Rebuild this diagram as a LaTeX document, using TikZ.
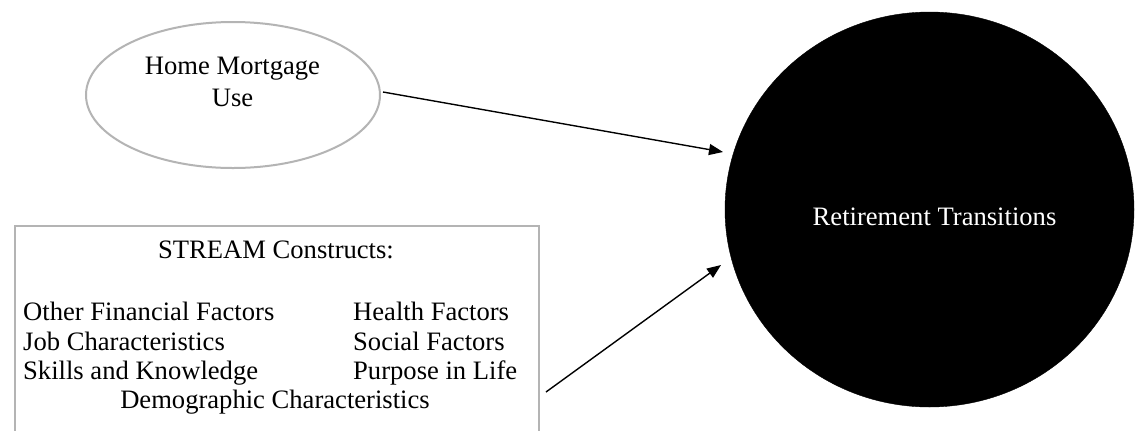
\documentclass[tikz,border=0pt]{standalone}
\usepackage{fontspec}
\setmainfont{Liberation Serif}
\usetikzlibrary{shapes.geometric,arrows.meta}
\definecolor{edgegray}{HTML}{B4B4B4}
\tikzset{
  txt/.style={inner sep=0pt, font=\fontsize{26.6bp}{32bp}\selectfont},
  oval/.style={ellipse, draw=edgegray, line width=2bp, minimum width=294bp, minimum height=146bp, inner sep=0pt},
  panel/.style={rectangle, draw=edgegray, line width=2.2bp, minimum width=524bp, minimum height=270bp, inner sep=0pt},
  bigdisk/.style={ellipse, fill=black, draw=black, minimum width=409bp, minimum height=395bp, inner sep=0pt},
  arr/.style={line width=1.4bp, -{Triangle[length=14bp,width=11bp]}}
}
\begin{document}
\begin{tikzpicture}[x=1bp,y=-1bp]
\useasboundingbox (0,0) rectangle (1135,430);
\clip (0,0) rectangle (1135,430);
\fill[white] (0,0) rectangle (1135,430);
% Home Mortgage Use
\node[oval] (mort) at (233,95) {};
\node[txt, anchor=base] (mortA) at (232.5,74) {Home Mortgage};
\node[txt, anchor=base] (mortB) at (232.5,106) {Use};
% STREAM box
\node[panel, anchor=north west] (stream) at (14,225) {};
\node[txt, anchor=base] (title) at (276,258) {STREAM Constructs:};
\node[txt, anchor=base west] (l1) at (23,320) {Other Financial Factors};
\node[txt, anchor=base west] (l2) at (23,350) {Job Characteristics};
\node[txt, anchor=base west] (l3) at (23,379) {Skills and Knowledge};
\node[txt, anchor=base west] (r1) at (353,320) {Health Factors};
\node[txt, anchor=base west] (r2) at (353,350) {Social Factors};
\node[txt, anchor=base west] (r3) at (353,379) {Purpose in Life};
\node[txt, anchor=base] (demo) at (275,408) {Demographic Characteristics};
% Retirement Transitions
\node[bigdisk] (ret) at (929.5,209.5) {};
\node[txt, anchor=base, text=white] (retT) at (934.5,225) {Retirement Transitions};
% connectors
\coordinate (m1) at (383,92);
\coordinate (t1) at (723,152);
\coordinate (s2) at (546,392);
\coordinate (t2) at (721,265);
\draw[arr] (m1) -- (t1);
\draw[arr] (s2) -- (t2);
\end{tikzpicture}
\end{document}
